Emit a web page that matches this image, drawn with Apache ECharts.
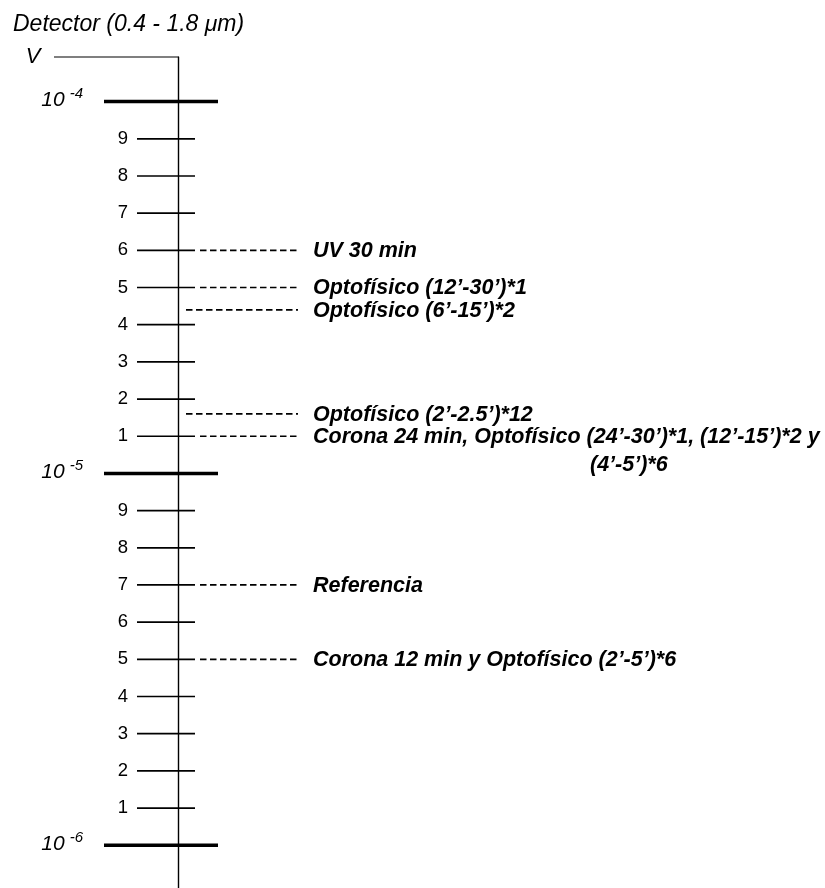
<!DOCTYPE html>
<html>
<head>
<meta charset="utf-8">
<script src="https://cdn.jsdelivr.net/npm/echarts@6/dist/echarts.min.js"></script>
<style>
html,body{margin:0;padding:0;background:#fff;}
#chart{width:825px;height:888px;}
</style>
</head>
<body>
<div id="chart"></div>
<script>
// escala lineal por década: 0 = 10^-6, 10 = 10^-5, 20 = 10^-4
var decadeValues = [0, 10, 20];
var decadeExps = ['-6', '-5', '-4'];
var minorValues = [1, 2, 3, 4, 5, 6, 7, 8, 9, 11, 12, 13, 14, 15, 16, 17, 18, 19];
var minorLabels = ['1', '2', '3', '4', '5', '6', '7', '8', '9', '1', '2', '3', '4', '5', '6', '7', '8', '9'];

// niveles medidos
var noteValues = [16, 15, 14.4, 11.6, 11, 7, 5];
var noteLabels = [
	'UV 30 min',
	'Optofísico (12’-30’)*1',
	'Optofísico (6’-15’)*2',
	'Optofísico (2’-2.5’)*12',
	'Corona 24 min, Optofísico (24’-30’)*1, (12’-15’)*2 y',
	'Referencia',
	'Corona 12 min y Optofísico (2’-5’)*6'
];
var noteExtra = ['', '', '', '', '(4’-5’)*6', '', ''];

var yMin = -1.15, yMax = 21.2;
var FONT = "'Liberation Sans', Arial, sans-serif";

var myChart = echarts.init(document.getElementById('chart'));

//marcas del eje
var tickData = [];
for (var i = 0; i < minorValues.length; i++) tickData.push([0, minorValues[i], 0]);
for (var i = 0; i < decadeValues.length; i++) tickData.push([0, decadeValues[i], 1]);

function renderTick(params, api) {
	var v = api.value(1), major = api.value(2);
	var p1 = api.coord(major ? [-74, v] : [-41, v]);
	var p2 = api.coord(major ? [40, v] : [17, v]);
	return {
		type: 'line',
		shape: {x1: p1[0], y1: p1[1], x2: p2[0], y2: p2[1]},
		style: {stroke: '#000', lineWidth: major ? 3.5 : 1.7}
	};
}

//lineas punteadas y textos
var noteData = [];
for (var i = 0; i < noteValues.length; i++) noteData.push([0, noteValues[i], i]);

function renderNote(params, api) {
	var v = api.value(1), idx = api.value(2);
	var onTick = Math.abs(v - Math.round(v)) < 0.01;
	var a = api.coord([onTick ? 22 : 8, v]);
	var b = api.coord([120, v]);
	var t = api.coord([135, v]);
	var txt = '{a|' + noteLabels[idx] + '}';
	if (noteExtra[idx]) txt += '\n{p|}{a|' + noteExtra[idx] + '}';
	return {
		type: 'group',
		children: [{
			type: 'line',
			shape: {x1: a[0], y1: a[1], x2: b[0], y2: b[1]},
			style: {stroke: '#000', lineWidth: 1.7, lineDash: [6.5, 3.5]}
		}, {
			type: 'text',
			x: t[0], y: t[1] - 13,
			style: {
				text: txt,
				verticalAlign: 'top',
				align: 'left',
				rich: {
					a: {fontSize: 21.5, fontStyle: 'italic', fontWeight: 'bold', fontFamily: FONT, color: '#000', lineHeight: 28},
					p: {width: 277, lineHeight: 28}
				}
			}
		}]
	};
}

//marco superior y la V
function renderFrame(params, api) {
	var p1 = api.coord([-124, yMax]);
	var p2 = api.coord([0, yMax]);
	var pv = api.coord([-145, yMax]);
	return {
		type: 'group',
		children: [{
			type: 'line',
			shape: {x1: p1[0], y1: p1[1], x2: p2[0], y2: p2[1]},
			style: {stroke: '#000', lineWidth: 1.2}
		}, {
			type: 'text',
			x: pv[0], y: pv[1],
			style: {text: 'V', fontSize: 22, fontStyle: 'italic', fontFamily: FONT, fill: '#000', align: 'center', verticalAlign: 'middle'}
		}]
	};
}

var option = {
	animation: false,
	title: {
		text: 'Detector (0.4 - 1.8 μm)',
		left: 8,
		top: 8,
		textStyle: {fontSize: 23, fontStyle: 'italic', fontWeight: 'normal', fontFamily: FONT, color: '#000'}
	},
	grid: {left: 178, right: 0, top: 57, bottom: 0},
	xAxis: {type: 'value', min: 0, max: 647, show: false},
	yAxis: [{
		type: 'value',
		position: 'left',
		min: yMin,
		max: yMax,
		axisLine: {show: true, onZero: false, lineStyle: {color: '#000', width: 1.4}},
		axisTick: {show: false},
		splitLine: {show: false},
		axisLabel: {
			customValues: minorValues,
			margin: 50,
			fontSize: 18.5,
			fontFamily: FONT,
			color: '#000',
			formatter: function (v) {
				var k = minorValues.indexOf(v);
				return k < 0 ? '' : minorLabels[k];
			}
		}
	}, {
		type: 'value',
		position: 'left',
		min: yMin,
		max: yMax,
		axisLine: {show: false},
		axisTick: {show: false},
		splitLine: {show: false},
		axisLabel: {
			customValues: decadeValues,
			margin: 95,
			formatter: function (v) {
				var k = decadeValues.indexOf(v);
				return k < 0 ? '' : '{b|10}{s|' + decadeExps[k] + '}';
			},
			rich: {
				b: {fontSize: 21, fontStyle: 'italic', fontFamily: FONT, color: '#000', lineHeight: 30, padding: [0, 0, 3, 0]},
				s: {fontSize: 15, fontStyle: 'italic', fontFamily: FONT, color: '#000', lineHeight: 15, verticalAlign: 'top', padding: [0, 0, 0, 5]}
			}
		}
	}],
	series: [{
		type: 'custom',
		clip: false,
		silent: true,
		renderItem: renderTick,
		data: tickData
	}, {
		type: 'custom',
		clip: false,
		silent: true,
		renderItem: renderNote,
		data: noteData
	}, {
		type: 'custom',
		clip: false,
		silent: true,
		renderItem: renderFrame,
		data: [[0, yMax]]
	}]
};

myChart.setOption(option);
</script>
</body>
</html>
